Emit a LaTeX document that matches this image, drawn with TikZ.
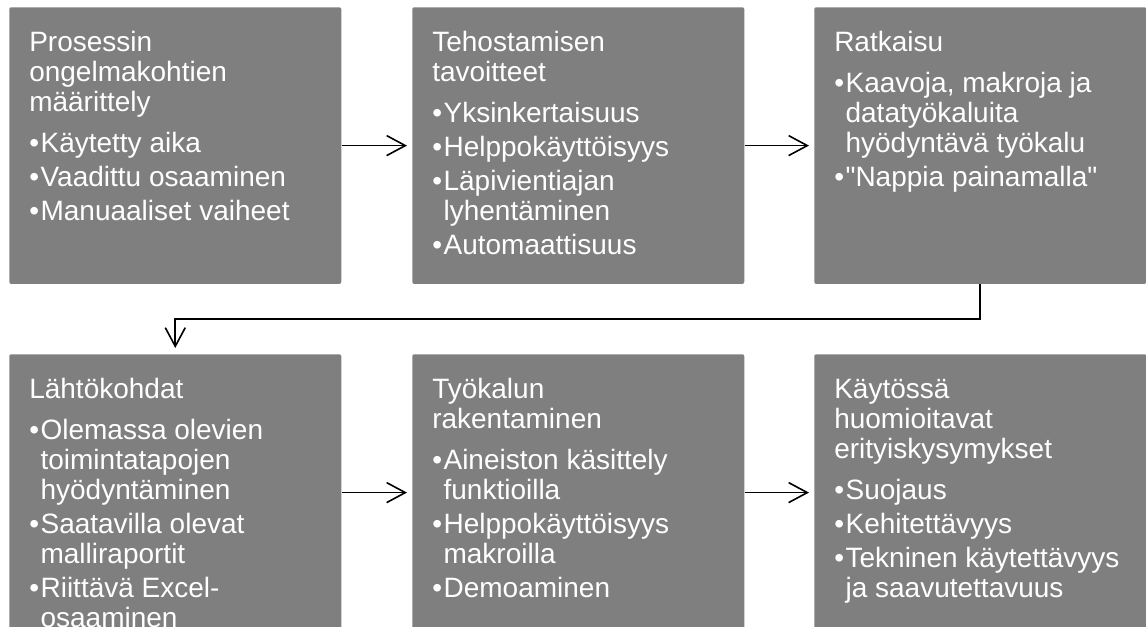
\documentclass[tikz,border=0pt]{standalone}
\usepackage{xcolor}
\usepackage{tikz}
\usetikzlibrary{arrows.meta}
\usepackage{fontspec}
\setmainfont{Liberation Sans}[Ligatures=TeXOff]
\definecolor{laatikko}{HTML}{7F7F7F}
\newcommand{\sisus}[1]{\parbox[c][173pt][t]{219pt}{\raggedright #1}}
\newcommand{\otsikko}[1]{\strut #1\par\vspace{8.25pt}}
\newcommand{\kohta}[1]{\hangindent=8.5pt\hangafter=1\noindent\makebox[8.5pt][l]{•}#1\par\vspace{3pt}}

\begin{document}
\begin{tikzpicture}[x=0.75pt,y=-0.75pt,
	vaihe/.style={fill=laatikko, text=white, rounded corners=1.5pt, inner xsep=15pt, inner ysep=17.25pt, anchor=north west, font=\fontsize{21pt}{22.5pt}\selectfont},
	nuoli/.style={-{Straight Barb[length=14pt,width=15pt]}, line width=1.2pt}]
	\useasboundingbox (0,0) rectangle (1146,627);
	\clip (0,0) rectangle (1146,627);
	\node[vaihe] (b1) at (9,7) {\sisus{\otsikko{Prosessin\newline ongelmakohtien\newline määrittely}\kohta{Käytetty aika}\kohta{Vaadittu osaaminen}\kohta{Manuaaliset vaiheet}}};
	\node[vaihe] (b2) at (412,7) {\sisus{\otsikko{Tehostamisen\newline tavoitteet}\kohta{Yksinkertaisuus}\kohta{Helppokäyttöisyys}\kohta{Läpivientiajan\newline lyhentäminen}\kohta{Automaattisuus}}};
	\node[vaihe] (b3) at (814,7) {\sisus{\otsikko{Ratkaisu}\kohta{Kaavoja, makroja ja\newline datatyökaluita\newline hyödyntävä työkalu}\kohta{"Nappia painamalla"}}};
	\node[vaihe] (b4) at (9,354) {\sisus{\otsikko{Lähtökohdat}\kohta{Olemassa olevien\newline toimintatapojen\newline hyödyntäminen}\kohta{Saatavilla olevat\newline malliraportit}\kohta{Riittävä Excel-\newline osaaminen}}};
	\node[vaihe] (b5) at (412,354) {\sisus{\otsikko{Työkalun\newline rakentaminen}\kohta{Aineiston käsittely\newline funktioilla}\kohta{Helppokäyttöisyys\newline makroilla}\kohta{Demoaminen}}};
	\node[vaihe] (b6) at (814,354) {\sisus{\otsikko{Käytössä\newline huomioitavat\newline erityiskysymykset}\kohta{Suojaus}\kohta{Kehitettävyys}\kohta{Tekninen käytettävyys\newline ja saavutettavuus}}};
	\draw[nuoli, shorten >=3.75pt] (b1.east) -- (b2.west);
	\draw[nuoli, shorten >=3.75pt] (b2.east) -- (b3.west);
	\draw[nuoli, shorten >=4.5pt] (b3.south) -- ++(0,35) -| (b4.north);
	\draw[nuoli, shorten >=3.75pt] (b4.east) -- (b5.west);
	\draw[nuoli, shorten >=3.75pt] (b5.east) -- (b6.west);
\end{tikzpicture}
\end{document}
